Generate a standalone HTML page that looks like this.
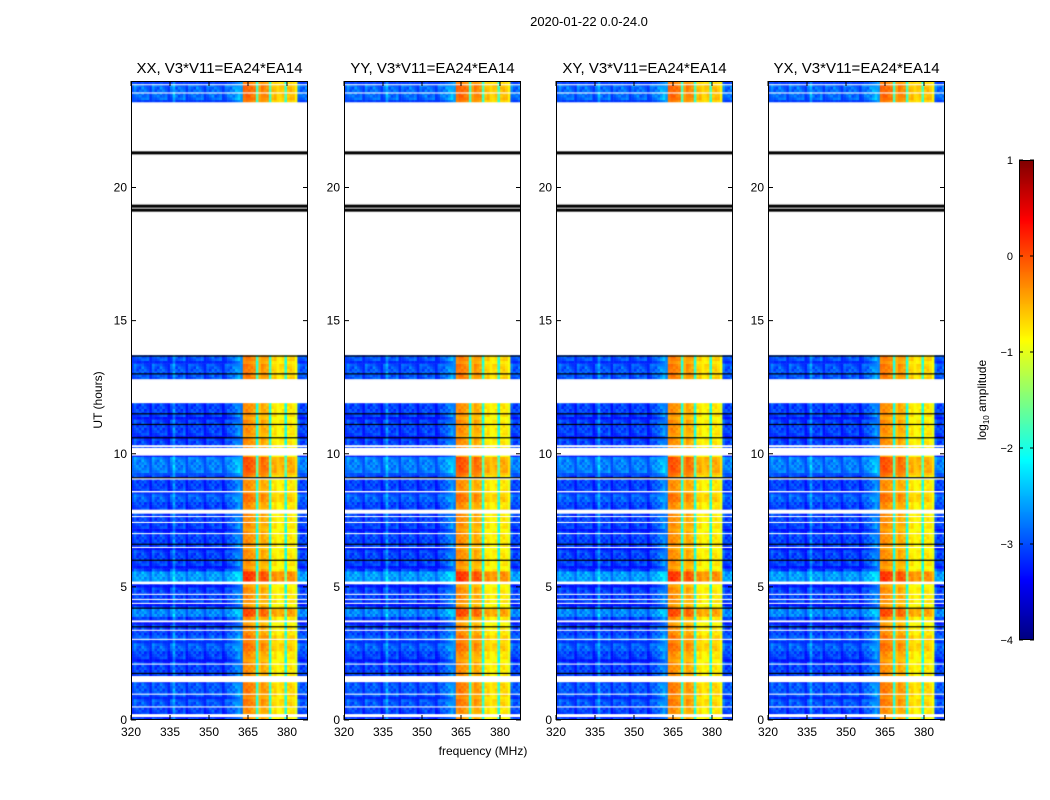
<!DOCTYPE html>
<html><head><meta charset="utf-8"><style>
body{margin:0;background:#fff;width:1050px;height:800px;overflow:hidden;position:relative;font-family:"Liberation Sans",sans-serif}
canvas{position:absolute}
svg{position:absolute;left:0;top:0}
</style></head><body>
<canvas id="c0" width="177" height="639" style="left:131px;top:81px"></canvas>
<canvas id="c1" width="176" height="639" style="left:344px;top:81px"></canvas>
<canvas id="c2" width="177" height="639" style="left:556px;top:81px"></canvas>
<canvas id="c3" width="177" height="639" style="left:768px;top:81px"></canvas>
<canvas id="cb" width="15" height="480" style="left:1019px;top:160px"></canvas>
<svg id="ov" width="1050" height="800"></svg>
<script>
// ---- data ----
const panelTitles=["XX, V3*V11=EA24*EA14","YY, V3*V11=EA24*EA14","XY, V3*V11=EA24*EA14","YX, V3*V11=EA24*EA14"];
const freqStart=320, freqStep=1;
const channelLevels=[-3.0,-3.0,-3.1,-3.1,-3.0,-3.1,-3.1,-3.1,-3.0,-3.1,-3.1,-3.0,-3.1,-3.1,-3.1,-3.1,-2.7,-3.1,-3.1,-3.1,-3.0,-3.1,-3.1,-3.1,-3.1,-3.0,-3.1,-3.1,-3.1,-3.1,-3.1,-3.0,-3.1,-3.1,-3.1,-3.1,-3.1,-3.0,-3.0,-2.9,-2.8,-2.7,-2.6,
 -0.35,-0.3,-0.35,-0.4,-0.45,-2.0,-0.5,-0.45,-0.5,-0.55,-2.0,-0.8,-0.75,-0.8,-0.85,-0.8,-2.0,-0.8,-0.75,-0.8,-0.9,-3.0,-3.1,-3.1,-3.0];
const brightSegments=[[23.2,24,0.2],[12.8,13.7,0.1],[9.2,9.9,0.3],[8.2,8.6,0.15],[5.2,5.6,0.45],[3.9,4.2,0.35],[2.6,3.2,0.15],[0.5,1.4,0.1]];
const flaggedRanges=[[13.7,23.2],[11.9,12.8],[10.25,10.32],[9.93,10.22],[9.03,9.1],[8.55,8.6],[7.75,7.9],[7.62,7.66],[7.4,7.44],[6.98,7.02],[6.46,6.5],[5.1,5.2],[4.7,4.74],[4.51,4.55],[4.36,4.4],[3.67,3.74],[3.35,3.39],[3.01,3.05],[2.08,2.12],[1.42,1.65],[0.95,0.99],[0.47,0.51],[0.11,0.22],[23.84,23.88],[23.53,23.57]];
const blackLines=[21.3,19.3,19.15,13.67,13.0,11.5,11.1,10.6,9.1,6.6,6.0,4.2,3.5,1.75];
const xTicks=[320,335,350,365,380];
const yTicks=[0,5,10,15,20];
const cbTicks=[1,0,-1,-2,-3,-4];
// ---- scales ----
const panelX=[131,344,556,768], PW=177, PT=81, PB=720;
const xs=(f,i)=>panelX[i]+(f-320)*2.6;
const ys=h=>PB-h*(PB-PT)/24;
const vmin=-4,vmax=1;
function jet(v){let x=(v-vmin)/(vmax-vmin);x=Math.max(0,Math.min(1,x));
 const c=t=>Math.round(255*Math.max(0,Math.min(1,t)));
 return `rgb(${c(1.5-Math.abs(4*x-3))},${c(1.5-Math.abs(4*x-2))},${c(1.5-Math.abs(4*x-1))})`;}
function rowOffset(h){let o=0;for(const s of brightSegments)if(h>=s[0]&&h<s[1])o+=s[2];return o;}
const rowStep=0.1;
for(let p=0;p<4;p++){
 const cv=document.getElementById('c'+p),ctx=cv.getContext('2d');
 ctx.fillStyle='#fff';ctx.fillRect(0,0,cv.width,cv.height);
 for(let h=0;h<24;h+=rowStep){
  const off=rowOffset(h+rowStep/2);
  const y0=ys(h+rowStep)-PT,y1=ys(h)-PT;
  const ri=Math.round(h*10);
  channelLevels.forEach((lv,k)=>{
   const f=freqStart+k*freqStep;
   const x0=xs(f,p)-panelX[p],x1=xs(f+freqStep,p)-panelX[p];
   const wob=(((k*13+ri*7+k*ri)%7)-3)*0.07;
   ctx.fillStyle=jet(lv+off+(lv<-2?wob:wob*0.5));
   ctx.fillRect(x0,y0,x1-x0+0.5,y1-y0+0.5);
  });
 }
 ctx.fillStyle='#fff';
 flaggedRanges.forEach(r=>{ctx.fillRect(0,ys(r[1])-PT,cv.width,ys(r[0])-ys(r[1]));});
 ctx.fillStyle='#000';
 blackLines.forEach(h=>{const w=(h>19&&h<21.5)?3:1.2;ctx.fillRect(0,ys(h)-PT-w/2,cv.width,w);});
}
const cb=document.getElementById('cb').getContext('2d');
for(let y=0;y<480;y++){cb.fillStyle=jet(vmax-(y+0.5)/480*(vmax-vmin));cb.fillRect(0,y,15,1);}
// ---- overlay ----
const NS='http://www.w3.org/2000/svg',ov=document.getElementById('ov');
function el(t,a,txt){const e=document.createElementNS(NS,t);for(const k in a)e.setAttribute(k,a[k]);if(txt!==undefined)e.textContent=txt;ov.appendChild(e);return e;}
for(let p=0;p<4;p++){
 const x0=panelX[p];
 const fr=el('rect',{x:x0+0.5,y:PT+0.5,width:PW-1,height:PB-PT-1,fill:'none',stroke:'#000','stroke-width':1});
 
 
 const t=el('text',{x:x0+PW/2,y:73,'text-anchor':'middle','font-size':15},panelTitles[p]);
 
 
 xTicks.forEach(v=>{const x=xs(v,p);
  el('line',{x1:x,x2:x,y1:PB,y2:PB-5,stroke:'#000'});el('line',{x1:x,x2:x,y1:PT,y2:PT+5,stroke:'#000'});
  const l=el('text',{x:x,y:PB+16,'text-anchor':'middle','font-size':12},String(v));
  
  });
 yTicks.forEach(v=>{const y=ys(v);
  el('line',{x1:x0,x2:x0+5,y1:y,y2:y,stroke:'#000'});el('line',{x1:x0+PW-5,x2:x0+PW,y1:y,y2:y,stroke:'#000'});
  const l=el('text',{x:x0-4,y:y+4,'text-anchor':'end','font-size':12},String(v));
  
  });
}
const st=el('text',{x:589,y:26,'text-anchor':'middle','font-size':13},'2020-01-22 0.0-24.0');


const xl=el('text',{x:483,y:755,'text-anchor':'middle','font-size':12},'frequency (MHz)');


const yl=el('text',{x:102,y:400,'text-anchor':'middle','font-size':12,transform:'rotate(-90 102 400)'},'UT (hours)');


el('rect',{x:1019.5,y:160.5,width:14,height:479,fill:'none',stroke:'#000'});
cbTicks.forEach(v=>{const y=160+(vmax-v)/(vmax-vmin)*480;
 el('line',{x1:1019,x2:1023,y1:y,y2:y,stroke:'#000'});el('line',{x1:1030,x2:1034,y1:y,y2:y,stroke:'#000'});
 const l=el('text',{x:1013,y:y+4,'text-anchor':'end','font-size':11},v<0?'\u2212'+(-v):String(v));
 
 });
const cl=el('text',{x:986,y:400,'text-anchor':'middle','font-size':12,transform:'rotate(-90 986 400)'});


cl.innerHTML='log<tspan font-size="8" dy="3">10</tspan><tspan dy="-3"> amplitude</tspan>';
</script>
</body></html>
